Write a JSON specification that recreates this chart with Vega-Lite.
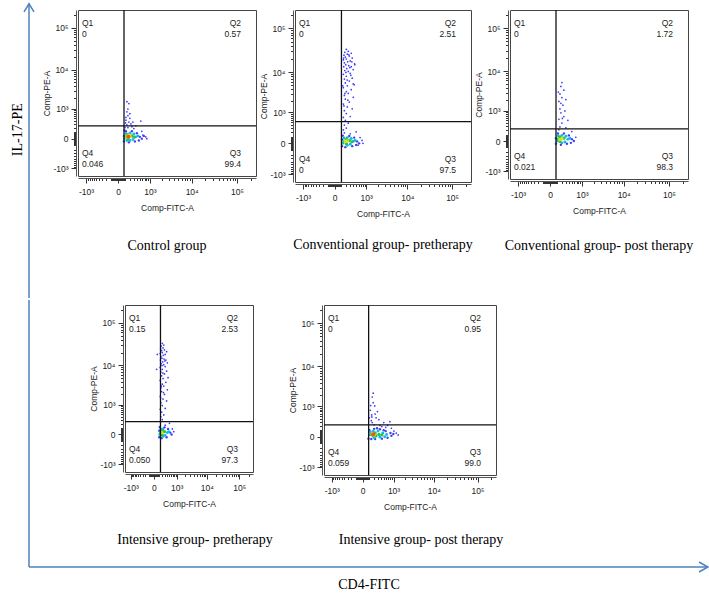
{
"$schema": "https://vega.github.io/schema/vega-lite/v6.json",
"background": "white",
"padding": {"left": 10, "top": 0, "right": 0, "bottom": 0},
"config": {
  "font": "Liberation Sans",
  "view": {"stroke": "#444", "strokeWidth": 1},
  "axis": {"labelFont": "Liberation Sans", "labelFontSize": 8.5, "labelColor": "#222", "titleFont": "Liberation Sans", "titleFontSize": 8.5, "titleFontWeight": "normal", "titleColor": "#222", "tickColor": "#333", "domainColor": "#555", "grid": false, "labelFlush": false, "labelOverlap": false, "tickCount": 100},
  "axisX": {"labelPadding": 4, "titlePadding": 8},
  "axisY": {"labelPadding": 3, "titlePadding": 1},
  "title": {"font": "Liberation Serif", "fontSize": 14, "fontWeight": "normal", "color": "#000"}
},
"datasets": {
"p1": [
{"x":142,"y":279,"c":"s"},{"x":183,"y":365,"c":"s"},{"x":123,"y":430,"c":"s"},{"x":205,"y":501,"c":"s"},{"x":162,"y":623,"c":"s"},{"x":142,"y":816,"c":"s"},{"x":162,"y":988,"c":"s"},{"x":183,"y":1421,"c":"s"},{"x":142,"y":1597,"c":"s"},{"x":540,"y":397,"c":"s"},{"x":253,"y":229,"c":"s"},{"x":229,"y":306,"c":"s"},{"x":162,"y":205,"c":"s"},{"x":116,"y":335,"c":"s"},{"x":306,"y":183,"c":"s"},{"x":365,"y":253,"c":"s"},{"x":580,"y":123,"c":"s"},{"x":623,"y":55,"c":"s"},{"x":764,"y":26,"c":"s"},{"x":105,"y":205,"c":"s"},{"x":205,"y":714,"c":"s"},{"x":123,"y":540,"c":"s"},{"x":816,"y":0,"c":"s"},{"x":279,"y":365,"c":"s"},
{"x":87,"y":-40,"c":"b"},{"x":501,"y":26,"c":"b"},{"x":580,"y":0,"c":"b"},{"x":397,"y":87,"c":"b"},{"x":123,"y":123,"c":"b"},{"x":253,"y":123,"c":"b"},{"x":667,"y":40,"c":"b"},{"x":183,"y":-55,"c":"b"},{"x":335,"y":-40,"c":"b"},{"x":96,"y":142,"c":"b"},{"x":464,"y":-26,"c":"b"},{"x":87,"y":40,"c":"b"},
{"x":93,"y":0,"c":"c"},{"x":365,"y":26,"c":"c"},{"x":205,"y":-26,"c":"c"},{"x":205,"y":87,"c":"c"},{"x":430,"y":40,"c":"c"},{"x":123,"y":80,"c":"c"},{"x":279,"y":-13,"c":"c"},{"x":306,"y":71,"c":"c"},{"x":142,"y":-26,"c":"c"},
{"x":116,"y":26,"c":"g"},{"x":253,"y":40,"c":"g"},{"x":162,"y":-5,"c":"g"},{"x":162,"y":60,"c":"g"},{"x":318,"y":21,"c":"g"},
{"x":142,"y":21,"c":"y"},{"x":205,"y":32,"c":"y"},{"x":183,"y":49,"c":"y"},
{"x":170,"y":26,"c":"r"}
],
"p2": [
{"x":142,"y":253,"c":"s"},{"x":205,"y":306,"c":"s"},{"x":162,"y":397,"c":"s"},{"x":253,"y":464,"c":"s"},{"x":183,"y":580,"c":"s"},{"x":142,"y":714,"c":"s"},{"x":306,"y":764,"c":"s"},{"x":205,"y":928,"c":"s"},{"x":162,"y":1121,"c":"s"},{"x":365,"y":1262,"c":"s"},{"x":229,"y":1421,"c":"s"},{"x":142,"y":1692,"c":"s"},{"x":279,"y":1896,"c":"s"},{"x":183,"y":2247,"c":"s"},{"x":397,"y":2506,"c":"s"},{"x":162,"y":2795,"c":"s"},{"x":253,"y":3117,"c":"s"},{"x":205,"y":3469,"c":"s"},{"x":335,"y":3862,"c":"s"},{"x":142,"y":4296,"c":"s"},{"x":229,"y":4771,"c":"s"},{"x":430,"y":5029,"c":"s"},{"x":183,"y":5584,"c":"s"},{"x":279,"y":6197,"c":"s"},{"x":162,"y":6876,"c":"s"},{"x":365,"y":7237,"c":"s"},{"x":205,"y":8029,"c":"s"},{"x":142,"y":8895,"c":"s"},{"x":306,"y":9369,"c":"s"},{"x":253,"y":10380,"c":"s"},{"x":171,"y":10917,"c":"s"},{"x":397,"y":11498,"c":"s"},{"x":215,"y":12100,"c":"s"},{"x":150,"y":13400,"c":"s"},{"x":335,"y":13400,"c":"s"},{"x":264,"y":14100,"c":"s"},{"x":192,"y":14840,"c":"s"},{"x":443,"y":15610,"c":"s"},{"x":162,"y":16420,"c":"s"},{"x":239,"y":17280,"c":"s"},{"x":306,"y":18170,"c":"s"},{"x":142,"y":19120,"c":"s"},{"x":205,"y":20110,"c":"s"},{"x":365,"y":21160,"c":"s"},{"x":183,"y":22250,"c":"s"},{"x":279,"y":23410,"c":"s"},{"x":154,"y":24610,"c":"s"},{"x":229,"y":25890,"c":"s"},{"x":335,"y":27230,"c":"s"},{"x":171,"y":28640,"c":"s"},{"x":253,"y":30130,"c":"s"},{"x":205,"y":33290,"c":"s"},{"x":397,"y":5300,"c":"s"},{"x":130,"y":4771,"c":"s"},{"x":450,"y":14840,"c":"s"},{"x":196,"y":9862,"c":"s"},{"x":295,"y":12740,"c":"s"},{"x":146,"y":21160,"c":"s"},{"x":353,"y":17280,"c":"s"},{"x":224,"y":6520,"c":"s"},{"x":175,"y":3117,"c":"s"},{"x":323,"y":8453,"c":"s"},{"x":243,"y":2122,"c":"s"},{"x":154,"y":1507,"c":"s"},{"x":269,"y":25130,"c":"s"},{"x":306,"y":162,"c":"s"},{"x":501,"y":205,"c":"s"},{"x":162,"y":183,"c":"s"},{"x":667,"y":87,"c":"s"},{"x":764,"y":40,"c":"s"},{"x":816,"y":0,"c":"s"},{"x":580,"y":-26,"c":"s"},
{"x":116,"y":-40,"c":"b"},{"x":540,"y":26,"c":"b"},{"x":623,"y":0,"c":"b"},{"x":430,"y":87,"c":"b"},{"x":130,"y":123,"c":"b"},{"x":279,"y":117,"c":"b"},{"x":183,"y":-55,"c":"b"},{"x":365,"y":-40,"c":"b"},{"x":501,"y":-21,"c":"b"},{"x":116,"y":55,"c":"b"},
{"x":130,"y":0,"c":"c"},{"x":397,"y":26,"c":"c"},{"x":229,"y":-26,"c":"c"},{"x":229,"y":87,"c":"c"},{"x":464,"y":40,"c":"c"},{"x":154,"y":80,"c":"c"},{"x":306,"y":-13,"c":"c"},{"x":335,"y":71,"c":"c"},
{"x":154,"y":26,"c":"g"},{"x":279,"y":40,"c":"g"},{"x":205,"y":-5,"c":"g"},{"x":205,"y":55,"c":"g"},{"x":353,"y":21,"c":"g"},
{"x":183,"y":26,"c":"y"},{"x":229,"y":32,"c":"y"}
],
"p3": [
{"x":162,"y":279,"c":"s"},{"x":205,"y":397,"c":"s"},{"x":142,"y":540,"c":"s"},{"x":253,"y":667,"c":"s"},{"x":183,"y":870,"c":"s"},{"x":162,"y":1121,"c":"s"},{"x":229,"y":1421,"c":"s"},{"x":142,"y":1792,"c":"s"},{"x":205,"y":2247,"c":"s"},{"x":162,"y":2795,"c":"s"},{"x":253,"y":3469,"c":"s"},{"x":183,"y":4296,"c":"s"},{"x":205,"y":5300,"c":"s"},{"x":306,"y":2006,"c":"s"},{"x":279,"y":988,"c":"s"},{"x":365,"y":501,"c":"s"},{"x":130,"y":3117,"c":"s"},{"x":501,"y":162,"c":"s"},{"x":667,"y":55,"c":"s"},{"x":142,"y":205,"c":"s"},{"x":306,"y":253,"c":"s"},{"x":183,"y":1597,"c":"s"},{"x":215,"y":580,"c":"s"},
{"x":87,"y":-40,"c":"b"},{"x":501,"y":26,"c":"b"},{"x":580,"y":0,"c":"b"},{"x":397,"y":87,"c":"b"},{"x":123,"y":123,"c":"b"},{"x":253,"y":123,"c":"b"},{"x":183,"y":-55,"c":"b"},{"x":335,"y":-40,"c":"b"},{"x":464,"y":-26,"c":"b"},{"x":87,"y":40,"c":"b"},
{"x":105,"y":0,"c":"c"},{"x":365,"y":26,"c":"c"},{"x":205,"y":-26,"c":"c"},{"x":205,"y":87,"c":"c"},{"x":430,"y":40,"c":"c"},{"x":123,"y":80,"c":"c"},{"x":279,"y":-13,"c":"c"},{"x":306,"y":71,"c":"c"},
{"x":123,"y":26,"c":"g"},{"x":253,"y":40,"c":"g"},{"x":162,"y":-5,"c":"g"},{"x":162,"y":60,"c":"g"},
{"x":162,"y":21,"c":"y"},{"x":205,"y":32,"c":"y"}
],
"p4": [
{"x":142,"y":253,"c":"s"},{"x":205,"y":306,"c":"s"},{"x":162,"y":397,"c":"s"},{"x":253,"y":464,"c":"s"},{"x":183,"y":580,"c":"s"},{"x":142,"y":714,"c":"s"},{"x":306,"y":764,"c":"s"},{"x":205,"y":928,"c":"s"},{"x":162,"y":1121,"c":"s"},{"x":365,"y":1262,"c":"s"},{"x":229,"y":1421,"c":"s"},{"x":142,"y":1692,"c":"s"},{"x":279,"y":1896,"c":"s"},{"x":183,"y":2247,"c":"s"},{"x":397,"y":2506,"c":"s"},{"x":162,"y":2795,"c":"s"},{"x":253,"y":3117,"c":"s"},{"x":205,"y":3469,"c":"s"},{"x":335,"y":3862,"c":"s"},{"x":142,"y":4296,"c":"s"},{"x":229,"y":4771,"c":"s"},{"x":430,"y":5029,"c":"s"},{"x":183,"y":5584,"c":"s"},{"x":279,"y":6197,"c":"s"},{"x":162,"y":6876,"c":"s"},{"x":365,"y":7237,"c":"s"},{"x":205,"y":8029,"c":"s"},{"x":142,"y":8895,"c":"s"},{"x":306,"y":9369,"c":"s"},{"x":253,"y":10380,"c":"s"},{"x":171,"y":10917,"c":"s"},{"x":397,"y":11498,"c":"s"},{"x":215,"y":12100,"c":"s"},{"x":150,"y":13400,"c":"s"},{"x":335,"y":13400,"c":"s"},{"x":264,"y":14100,"c":"s"},{"x":192,"y":14840,"c":"s"},{"x":162,"y":16420,"c":"s"},{"x":239,"y":17280,"c":"s"},{"x":306,"y":18170,"c":"s"},{"x":142,"y":19120,"c":"s"},{"x":205,"y":20110,"c":"s"},{"x":365,"y":21160,"c":"s"},{"x":183,"y":22250,"c":"s"},{"x":279,"y":23410,"c":"s"},{"x":154,"y":24610,"c":"s"},{"x":229,"y":25890,"c":"s"},{"x":171,"y":28640,"c":"s"},{"x":253,"y":30130,"c":"s"},{"x":205,"y":33290,"c":"s"},{"x":196,"y":9862,"c":"s"},{"x":295,"y":12740,"c":"s"},{"x":224,"y":6520,"c":"s"},{"x":175,"y":3117,"c":"s"},{"x":243,"y":2122,"c":"s"},{"x":154,"y":1507,"c":"s"},{"x":55,"y":8029,"c":"s"},{"x":71,"y":18170,"c":"s"},{"x":306,"y":162,"c":"s"},{"x":501,"y":205,"c":"s"},{"x":667,"y":87,"c":"s"},{"x":764,"y":40,"c":"s"},
{"x":116,"y":-40,"c":"b"},{"x":540,"y":26,"c":"b"},{"x":623,"y":0,"c":"b"},{"x":430,"y":87,"c":"b"},{"x":130,"y":123,"c":"b"},{"x":279,"y":117,"c":"b"},{"x":183,"y":-55,"c":"b"},{"x":365,"y":-40,"c":"b"},{"x":116,"y":55,"c":"b"},
{"x":130,"y":0,"c":"c"},{"x":397,"y":26,"c":"c"},{"x":229,"y":-26,"c":"c"},{"x":229,"y":87,"c":"c"},{"x":464,"y":40,"c":"c"},{"x":154,"y":80,"c":"c"},{"x":306,"y":-13,"c":"c"},
{"x":154,"y":26,"c":"g"},{"x":279,"y":40,"c":"g"},{"x":205,"y":-5,"c":"g"},{"x":205,"y":55,"c":"g"},
{"x":183,"y":26,"c":"y"}
],
"p5": [
{"x":162,"y":1792,"c":"s"},{"x":219,"y":1026,"c":"s"},{"x":290,"y":695,"c":"s"},{"x":335,"y":365,"c":"s"},{"x":784,"y":306,"c":"s"},{"x":150,"y":540,"c":"s"},{"x":205,"y":219,"c":"s"},{"x":430,"y":179,"c":"s"},{"x":1026,"y":87,"c":"s"},{"x":123,"y":764,"c":"s"},{"x":183,"y":1262,"c":"s"},{"x":142,"y":335,"c":"s"},{"x":253,"y":430,"c":"s"},{"x":365,"y":205,"c":"s"},{"x":580,"y":162,"c":"s"},{"x":870,"y":142,"c":"s"},{"x":1189,"y":55,"c":"s"},{"x":1340,"y":26,"c":"s"},{"x":105,"y":430,"c":"s"},{"x":162,"y":279,"c":"s"},{"x":229,"y":580,"c":"s"},{"x":130,"y":1052,"c":"s"},{"x":501,"y":279,"c":"s"},{"x":667,"y":205,"c":"s"},{"x":183,"y":2247,"c":"s"},{"x":154,"y":464,"c":"s"},
{"x":87,"y":-26,"c":"b"},{"x":105,"y":105,"c":"b"},{"x":205,"y":130,"c":"b"},{"x":365,"y":123,"c":"b"},{"x":580,"y":87,"c":"b"},{"x":816,"y":55,"c":"b"},{"x":988,"y":40,"c":"b"},{"x":870,"y":13,"c":"b"},{"x":667,"y":-13,"c":"b"},{"x":430,"y":-26,"c":"b"},{"x":229,"y":-31,"c":"b"},{"x":142,"y":-31,"c":"b"},{"x":501,"y":105,"c":"b"},{"x":279,"y":142,"c":"b"},
{"x":105,"y":26,"c":"c"},{"x":183,"y":87,"c":"c"},{"x":306,"y":87,"c":"c"},{"x":464,"y":55,"c":"c"},{"x":623,"y":32,"c":"c"},{"x":365,"y":-5,"c":"c"},{"x":205,"y":-13,"c":"c"},{"x":123,"y":71,"c":"c"},{"x":540,"y":0,"c":"c"},
{"x":142,"y":32,"c":"g"},{"x":229,"y":55,"c":"g"},{"x":335,"y":32,"c":"g"},{"x":430,"y":26,"c":"g"},{"x":183,"y":13,"c":"g"},{"x":253,"y":13,"c":"g"},
{"x":162,"y":40,"c":"y"},{"x":205,"y":26,"c":"y"},
{"x":183,"y":34,"c":"r"}
]
},
"vconcat": [
{"hconcat": [
{"width": 10, "height": 283, "view": {"stroke": null},
 "layer": [
  {"data": {"values": [{"x": 0, "y": -0.0176, "y2": 1.022}]}, "mark": {"type": "rule", "color": "#4f81bd", "strokeWidth": 1.5},
   "encoding": {"x": {"field": "x", "type": "quantitative", "scale": {"domain": [0, 1]}, "axis": null}, "y": {"field": "y", "type": "quantitative", "scale": {"domain": [0, 1]}, "axis": null}, "y2": {"field": "y2"}}},
  {"data": {"values": [{"x": 0, "y": 1.022}]}, "mark": {"type": "point", "shape": "M-1,1.6L0,0L1,1.6", "filled": false, "stroke": "#4f81bd", "strokeWidth": 1.5, "size": 100, "opacity": 1},
   "encoding": {"x": {"field": "x", "type": "quantitative"}, "y": {"field": "y", "type": "quantitative"}}},
  {"data": {"values": [{"x": -1.12, "y": 0.577, "t": "IL-17-PE"}]}, "mark": {"type": "text", "angle": 270, "font": "Liberation Serif", "fontSize": 14, "color": "#000"},
   "encoding": {"x": {"field": "x", "type": "quantitative"}, "y": {"field": "y", "type": "quantitative"}, "text": {"field": "t"}}}
 ]},
{"width": 178, "height": 166,
 "title": {"text": "Control group", "orient": "bottom", "offset": 27, "frame": "group"},
 "layer": [
  {"data": {"name": "p1"}, "mark": {"type": "circle", "opacity": 1},
   "encoding": {
    "x": {"field": "x", "type": "quantitative", "scale": {"type": "symlog", "constant": 250, "domain": [-1630, 262144], "nice": false, "zero": false},
      "axis": {"title": "Comp-FITC-A", "offset": 2, "tickCount": 100, "labelOverlap": false, "labelFlush": false, "labelBound": false, "values": [-1000,-900,-800,-700,-600,-500,-400,-300,-200,-100,-90,-80,-70,-60,-50,-40,-30,-20,-10,0,10,20,30,40,50,60,70,80,90,100,200,300,400,500,600,700,800,900,1000,2000,3000,4000,5000,6000,7000,8000,9000,10000,20000,30000,40000,50000,60000,70000,80000,90000,100000,200000], "labelExpr": "datum.value==-1000?'-10³':datum.value==0?'0':datum.value==1000?'10³':datum.value==10000?'10⁴':datum.value==100000?'10⁵':''", "tickSize": {"condition": {"test": "datum.value==-1000||datum.value==0||datum.value==1000||datum.value==10000||datum.value==100000", "value": 5}, "value": 2.5}}},
    "y": {"field": "y", "type": "quantitative", "scale": {"type": "symlog", "constant": 250, "domain": [-1630, 262144], "nice": false, "zero": false},
      "axis": {"title": "Comp-PE-A", "offset": 2, "tickCount": 100, "labelOverlap": false, "labelFlush": false, "labelBound": false, "values": [-1000,-900,-800,-700,-600,-500,-400,-300,-200,-100,-90,-80,-70,-60,-50,-40,-30,-20,-10,0,10,20,30,40,50,60,70,80,90,100,200,300,400,500,600,700,800,900,1000,2000,3000,4000,5000,6000,7000,8000,9000,10000,20000,30000,40000,50000,60000,70000,80000,90000,100000,200000], "labelExpr": "datum.value==-1000?'-10³':datum.value==0?'0':datum.value==1000?'10³':datum.value==10000?'10⁴':datum.value==100000?'10⁵':''", "tickSize": {"condition": {"test": "datum.value==-1000||datum.value==0||datum.value==1000||datum.value==10000||datum.value==100000", "value": 5}, "value": 2.5}}},
    "color": {"field": "c", "type": "nominal", "scale": {"domain": ["s","b","c","g","y","r"], "range": ["#3a3aff","#3c3cf5","#12b8e8","#2cc24a","#d8e020","#f05020"]}, "legend": null},
    "size": {"field": "c", "type": "ordinal", "scale": {"domain": ["s","b","c","g","y","r"], "range": [3,16,16,16,12,10]}, "legend": null}}},
  {"data": {"values": [{"x": 88, "y": 250}]}, "mark": {"type": "rule", "color": "#111", "strokeWidth": 1.3}, "encoding": {"x": {"field": "x", "type": "quantitative"}}},
  {"data": {"values": [{"x": 88, "y": 250}]}, "mark": {"type": "rule", "color": "#111", "strokeWidth": 1.3}, "encoding": {"y": {"field": "y", "type": "quantitative"}}},
  {"data": {"values": [{"x": -1630, "y": 262144, "t": "Q1\n0"}]}, "mark": {"type": "text", "align": "left", "baseline": "top", "dx": 4, "dy": 9, "lineBreak": "\n", "lineHeight": 10.5, "fontSize": 8.5, "color": "#222"}, "encoding": {"x": {"field": "x", "type": "quantitative"}, "y": {"field": "y", "type": "quantitative"}, "text": {"field": "t"}}},
  {"data": {"values": [{"x": 262144, "y": 262144, "t": "Q2\n0.57"}]}, "mark": {"type": "text", "align": "right", "baseline": "top", "dx": -15, "dy": 9, "lineBreak": "\n", "lineHeight": 10.5, "fontSize": 8.5, "color": "#222"}, "encoding": {"x": {"field": "x", "type": "quantitative"}, "y": {"field": "y", "type": "quantitative"}, "text": {"field": "t"}}},
  {"data": {"values": [{"x": 262144, "y": -1630, "t": "Q3\n99.4"}]}, "mark": {"type": "text", "align": "right", "baseline": "top", "dx": -15, "dy": -27, "lineBreak": "\n", "lineHeight": 10.5, "fontSize": 8.5, "color": "#222"}, "encoding": {"x": {"field": "x", "type": "quantitative"}, "y": {"field": "y", "type": "quantitative"}, "text": {"field": "t"}}},
  {"data": {"values": [{"x": -1630, "y": -1630, "t": "Q4\n0.046"}]}, "mark": {"type": "text", "align": "left", "baseline": "top", "dx": 4, "dy": -27, "lineBreak": "\n", "lineHeight": 10.5, "fontSize": 8.5, "color": "#222"}, "encoding": {"x": {"field": "x", "type": "quantitative"}, "y": {"field": "y", "type": "quantitative"}, "text": {"field": "t"}}}
 ]},
{"width": 176, "height": 172,
 "title": {"text": "Conventional group- pretherapy", "orient": "bottom", "offset": 20, "frame": "group"},
 "layer": [
  {"data": {"name": "p2"}, "mark": {"type": "circle", "opacity": 1},
   "encoding": {
    "x": {"field": "x", "type": "quantitative", "scale": {"type": "symlog", "constant": 250, "domain": [-1630, 262144], "nice": false, "zero": false},
      "axis": {"title": "Comp-FITC-A", "offset": 2, "tickCount": 100, "labelOverlap": false, "labelFlush": false, "labelBound": false, "values": [-1000,-900,-800,-700,-600,-500,-400,-300,-200,-100,-90,-80,-70,-60,-50,-40,-30,-20,-10,0,10,20,30,40,50,60,70,80,90,100,200,300,400,500,600,700,800,900,1000,2000,3000,4000,5000,6000,7000,8000,9000,10000,20000,30000,40000,50000,60000,70000,80000,90000,100000,200000], "labelExpr": "datum.value==-1000?'-10³':datum.value==0?'0':datum.value==1000?'10³':datum.value==10000?'10⁴':datum.value==100000?'10⁵':''", "tickSize": {"condition": {"test": "datum.value==-1000||datum.value==0||datum.value==1000||datum.value==10000||datum.value==100000", "value": 5}, "value": 2.5}}},
    "y": {"field": "y", "type": "quantitative", "scale": {"type": "symlog", "constant": 250, "domain": [-1630, 262144], "nice": false, "zero": false},
      "axis": {"title": "Comp-PE-A", "offset": 2, "tickCount": 100, "labelOverlap": false, "labelFlush": false, "labelBound": false, "values": [-1000,-900,-800,-700,-600,-500,-400,-300,-200,-100,-90,-80,-70,-60,-50,-40,-30,-20,-10,0,10,20,30,40,50,60,70,80,90,100,200,300,400,500,600,700,800,900,1000,2000,3000,4000,5000,6000,7000,8000,9000,10000,20000,30000,40000,50000,60000,70000,80000,90000,100000,200000], "labelExpr": "datum.value==-1000?'-10³':datum.value==0?'0':datum.value==1000?'10³':datum.value==10000?'10⁴':datum.value==100000?'10⁵':''", "tickSize": {"condition": {"test": "datum.value==-1000||datum.value==0||datum.value==1000||datum.value==10000||datum.value==100000", "value": 5}, "value": 2.5}}},
    "color": {"field": "c", "type": "nominal", "scale": {"domain": ["s","b","c","g","y","r"], "range": ["#3a3aff","#3c3cf5","#12b8e8","#2cc24a","#d8e020","#f05020"]}, "legend": null},
    "size": {"field": "c", "type": "ordinal", "scale": {"domain": ["s","b","c","g","y","r"], "range": [3,16,16,16,12,10]}, "legend": null}}},
  {"data": {"values": [{"x": 105, "y": 525}]}, "mark": {"type": "rule", "color": "#111", "strokeWidth": 1.3}, "encoding": {"x": {"field": "x", "type": "quantitative"}}},
  {"data": {"values": [{"x": 105, "y": 525}]}, "mark": {"type": "rule", "color": "#111", "strokeWidth": 1.3}, "encoding": {"y": {"field": "y", "type": "quantitative"}}},
  {"data": {"values": [{"x": -1630, "y": 262144, "t": "Q1\n0"}]}, "mark": {"type": "text", "align": "left", "baseline": "top", "dx": 4, "dy": 9, "lineBreak": "\n", "lineHeight": 10.5, "fontSize": 8.5, "color": "#222"}, "encoding": {"x": {"field": "x", "type": "quantitative"}, "y": {"field": "y", "type": "quantitative"}, "text": {"field": "t"}}},
  {"data": {"values": [{"x": 262144, "y": 262144, "t": "Q2\n2.51"}]}, "mark": {"type": "text", "align": "right", "baseline": "top", "dx": -15, "dy": 9, "lineBreak": "\n", "lineHeight": 10.5, "fontSize": 8.5, "color": "#222"}, "encoding": {"x": {"field": "x", "type": "quantitative"}, "y": {"field": "y", "type": "quantitative"}, "text": {"field": "t"}}},
  {"data": {"values": [{"x": 262144, "y": -1630, "t": "Q3\n97.5"}]}, "mark": {"type": "text", "align": "right", "baseline": "top", "dx": -15, "dy": -27, "lineBreak": "\n", "lineHeight": 10.5, "fontSize": 8.5, "color": "#222"}, "encoding": {"x": {"field": "x", "type": "quantitative"}, "y": {"field": "y", "type": "quantitative"}, "text": {"field": "t"}}},
  {"data": {"values": [{"x": -1630, "y": -1630, "t": "Q4\n0"}]}, "mark": {"type": "text", "align": "left", "baseline": "top", "dx": 4, "dy": -27, "lineBreak": "\n", "lineHeight": 10.5, "fontSize": 8.5, "color": "#222"}, "encoding": {"x": {"field": "x", "type": "quantitative"}, "y": {"field": "y", "type": "quantitative"}, "text": {"field": "t"}}}
 ]},
{"width": 178, "height": 169,
 "title": {"text": "Conventional group- post therapy", "orient": "bottom", "offset": 24, "frame": "group"},
 "layer": [
  {"data": {"name": "p3"}, "mark": {"type": "circle", "opacity": 1},
   "encoding": {
    "x": {"field": "x", "type": "quantitative", "scale": {"type": "symlog", "constant": 250, "domain": [-1630, 262144], "nice": false, "zero": false},
      "axis": {"title": "Comp-FITC-A", "offset": 2, "tickCount": 100, "labelOverlap": false, "labelFlush": false, "labelBound": false, "values": [-1000,-900,-800,-700,-600,-500,-400,-300,-200,-100,-90,-80,-70,-60,-50,-40,-30,-20,-10,0,10,20,30,40,50,60,70,80,90,100,200,300,400,500,600,700,800,900,1000,2000,3000,4000,5000,6000,7000,8000,9000,10000,20000,30000,40000,50000,60000,70000,80000,90000,100000,200000], "labelExpr": "datum.value==-1000?'-10³':datum.value==0?'0':datum.value==1000?'10³':datum.value==10000?'10⁴':datum.value==100000?'10⁵':''", "tickSize": {"condition": {"test": "datum.value==-1000||datum.value==0||datum.value==1000||datum.value==10000||datum.value==100000", "value": 5}, "value": 2.5}}},
    "y": {"field": "y", "type": "quantitative", "scale": {"type": "symlog", "constant": 250, "domain": [-1630, 262144], "nice": false, "zero": false},
      "axis": {"title": "Comp-PE-A", "offset": 2, "tickCount": 100, "labelOverlap": false, "labelFlush": false, "labelBound": false, "values": [-1000,-900,-800,-700,-600,-500,-400,-300,-200,-100,-90,-80,-70,-60,-50,-40,-30,-20,-10,0,10,20,30,40,50,60,70,80,90,100,200,300,400,500,600,700,800,900,1000,2000,3000,4000,5000,6000,7000,8000,9000,10000,20000,30000,40000,50000,60000,70000,80000,90000,100000,200000], "labelExpr": "datum.value==-1000?'-10³':datum.value==0?'0':datum.value==1000?'10³':datum.value==10000?'10⁴':datum.value==100000?'10⁵':''", "tickSize": {"condition": {"test": "datum.value==-1000||datum.value==0||datum.value==1000||datum.value==10000||datum.value==100000", "value": 5}, "value": 2.5}}},
    "color": {"field": "c", "type": "nominal", "scale": {"domain": ["s","b","c","g","y","r"], "range": ["#3a3aff","#3c3cf5","#12b8e8","#2cc24a","#d8e020","#f05020"]}, "legend": null},
    "size": {"field": "c", "type": "ordinal", "scale": {"domain": ["s","b","c","g","y","r"], "range": [3,16,16,16,12,10]}, "legend": null}}},
  {"data": {"values": [{"x": 88, "y": 225}]}, "mark": {"type": "rule", "color": "#111", "strokeWidth": 1.3}, "encoding": {"x": {"field": "x", "type": "quantitative"}}},
  {"data": {"values": [{"x": 88, "y": 225}]}, "mark": {"type": "rule", "color": "#111", "strokeWidth": 1.3}, "encoding": {"y": {"field": "y", "type": "quantitative"}}},
  {"data": {"values": [{"x": -1630, "y": 262144, "t": "Q1\n0"}]}, "mark": {"type": "text", "align": "left", "baseline": "top", "dx": 4, "dy": 9, "lineBreak": "\n", "lineHeight": 10.5, "fontSize": 8.5, "color": "#222"}, "encoding": {"x": {"field": "x", "type": "quantitative"}, "y": {"field": "y", "type": "quantitative"}, "text": {"field": "t"}}},
  {"data": {"values": [{"x": 262144, "y": 262144, "t": "Q2\n1.72"}]}, "mark": {"type": "text", "align": "right", "baseline": "top", "dx": -15, "dy": 9, "lineBreak": "\n", "lineHeight": 10.5, "fontSize": 8.5, "color": "#222"}, "encoding": {"x": {"field": "x", "type": "quantitative"}, "y": {"field": "y", "type": "quantitative"}, "text": {"field": "t"}}},
  {"data": {"values": [{"x": 262144, "y": -1630, "t": "Q3\n98.3"}]}, "mark": {"type": "text", "align": "right", "baseline": "top", "dx": -15, "dy": -27, "lineBreak": "\n", "lineHeight": 10.5, "fontSize": 8.5, "color": "#222"}, "encoding": {"x": {"field": "x", "type": "quantitative"}, "y": {"field": "y", "type": "quantitative"}, "text": {"field": "t"}}},
  {"data": {"values": [{"x": -1630, "y": -1630, "t": "Q4\n0.021"}]}, "mark": {"type": "text", "align": "left", "baseline": "top", "dx": 4, "dy": -27, "lineBreak": "\n", "lineHeight": 10.5, "fontSize": 8.5, "color": "#222"}, "encoding": {"x": {"field": "x", "type": "quantitative"}, "y": {"field": "y", "type": "quantitative"}, "text": {"field": "t"}}}
 ]}
], "spacing": 39, "bounds": "flush"},
{"hconcat": [
{"width": 25, "height": 262, "view": {"stroke": null},
 "layer": [
  {"data": {"values": [{"x": 0, "y": 0, "y2": 1.019}]}, "mark": {"type": "rule", "color": "#4f81bd", "strokeWidth": 1.5},
   "encoding": {"x": {"field": "x", "type": "quantitative", "scale": {"domain": [0, 1]}, "axis": null}, "y": {"field": "y", "type": "quantitative", "scale": {"domain": [0, 1]}, "axis": null}, "y2": {"field": "y2"}}},
  {"data": {"values": [{"x": 0, "x2": 27.16, "y": 0}]}, "mark": {"type": "rule", "color": "#4f81bd", "strokeWidth": 1.5},
   "encoding": {"x": {"field": "x", "type": "quantitative"}, "x2": {"field": "x2"}, "y": {"field": "y", "type": "quantitative"}}},
  {"data": {"values": [{"x": 27.16, "y": 0}]}, "mark": {"type": "point", "shape": "M-1.8,-1L0,0L-1.8,1", "filled": false, "stroke": "#4f81bd", "strokeWidth": 1.5, "size": 100, "opacity": 1},
   "encoding": {"x": {"field": "x", "type": "quantitative"}, "y": {"field": "y", "type": "quantitative"}}},
  {"data": {"values": [{"x": 13.6, "y": -0.07, "t": "CD4-FITC"}]}, "mark": {"type": "text", "font": "Liberation Serif", "fontSize": 14, "color": "#000"},
   "encoding": {"x": {"field": "x", "type": "quantitative"}, "y": {"field": "y", "type": "quantitative"}, "text": {"field": "t"}}},
  {"data": {"values": [{"x": -0.448, "y": 0.5, "t": " "}]}, "mark": {"type": "text", "angle": 270, "font": "Liberation Serif", "fontSize": 14, "color": "#000"},
   "encoding": {"x": {"field": "x", "type": "quantitative"}, "y": {"field": "y", "type": "quantitative"}, "text": {"field": "t"}}}
 ]},
{"width": 128, "height": 167,
 "title": {"text": "Intensive group- pretherapy", "orient": "bottom", "offset": 25, "frame": "group", "dx": 6},
 "layer": [
  {"data": {"name": "p4"}, "mark": {"type": "circle", "opacity": 1},
   "encoding": {
    "x": {"field": "x", "type": "quantitative", "scale": {"type": "symlog", "constant": 250, "domain": [-1630, 262144], "nice": false, "zero": false},
      "axis": {"title": "Comp-FITC-A", "offset": 2, "tickCount": 100, "labelOverlap": false, "labelFlush": false, "labelBound": false, "values": [-1000,-900,-800,-700,-600,-500,-400,-300,-200,-100,-90,-80,-70,-60,-50,-40,-30,-20,-10,0,10,20,30,40,50,60,70,80,90,100,200,300,400,500,600,700,800,900,1000,2000,3000,4000,5000,6000,7000,8000,9000,10000,20000,30000,40000,50000,60000,70000,80000,90000,100000,200000], "labelExpr": "datum.value==-1000?'-10³':datum.value==0?'0':datum.value==1000?'10³':datum.value==10000?'10⁴':datum.value==100000?'10⁵':''", "tickSize": {"condition": {"test": "datum.value==-1000||datum.value==0||datum.value==1000||datum.value==10000||datum.value==100000", "value": 5}, "value": 2.5}}},
    "y": {"field": "y", "type": "quantitative", "scale": {"type": "symlog", "constant": 250, "domain": [-1630, 262144], "nice": false, "zero": false},
      "axis": {"title": "Comp-PE-A", "offset": 2, "tickCount": 100, "labelOverlap": false, "labelFlush": false, "labelBound": false, "values": [-1000,-900,-800,-700,-600,-500,-400,-300,-200,-100,-90,-80,-70,-60,-50,-40,-30,-20,-10,0,10,20,30,40,50,60,70,80,90,100,200,300,400,500,600,700,800,900,1000,2000,3000,4000,5000,6000,7000,8000,9000,10000,20000,30000,40000,50000,60000,70000,80000,90000,100000,200000], "labelExpr": "datum.value==-1000?'-10³':datum.value==0?'0':datum.value==1000?'10³':datum.value==10000?'10⁴':datum.value==100000?'10⁵':''", "tickSize": {"condition": {"test": "datum.value==-1000||datum.value==0||datum.value==1000||datum.value==10000||datum.value==100000", "value": 5}, "value": 2.5}}},
    "color": {"field": "c", "type": "nominal", "scale": {"domain": ["s","b","c","g","y","r"], "range": ["#3a3aff","#3c3cf5","#12b8e8","#2cc24a","#d8e020","#f05020"]}, "legend": null},
    "size": {"field": "c", "type": "ordinal", "scale": {"domain": ["s","b","c","g","y","r"], "range": [3,12,12,12,10,8]}, "legend": null}}},
  {"data": {"values": [{"x": 150, "y": 250}]}, "mark": {"type": "rule", "color": "#111", "strokeWidth": 1.3}, "encoding": {"x": {"field": "x", "type": "quantitative"}}},
  {"data": {"values": [{"x": 150, "y": 250}]}, "mark": {"type": "rule", "color": "#111", "strokeWidth": 1.3}, "encoding": {"y": {"field": "y", "type": "quantitative"}}},
  {"data": {"values": [{"x": -1630, "y": 262144, "t": "Q1\n0.15"}]}, "mark": {"type": "text", "align": "left", "baseline": "top", "dx": 4, "dy": 9, "lineBreak": "\n", "lineHeight": 10.5, "fontSize": 8.5, "color": "#222"}, "encoding": {"x": {"field": "x", "type": "quantitative"}, "y": {"field": "y", "type": "quantitative"}, "text": {"field": "t"}}},
  {"data": {"values": [{"x": 262144, "y": 262144, "t": "Q2\n2.53"}]}, "mark": {"type": "text", "align": "right", "baseline": "top", "dx": -15, "dy": 9, "lineBreak": "\n", "lineHeight": 10.5, "fontSize": 8.5, "color": "#222"}, "encoding": {"x": {"field": "x", "type": "quantitative"}, "y": {"field": "y", "type": "quantitative"}, "text": {"field": "t"}}},
  {"data": {"values": [{"x": 262144, "y": -1630, "t": "Q3\n97.3"}]}, "mark": {"type": "text", "align": "right", "baseline": "top", "dx": -15, "dy": -27, "lineBreak": "\n", "lineHeight": 10.5, "fontSize": 8.5, "color": "#222"}, "encoding": {"x": {"field": "x", "type": "quantitative"}, "y": {"field": "y", "type": "quantitative"}, "text": {"field": "t"}}},
  {"data": {"values": [{"x": -1630, "y": -1630, "t": "Q4\n0.050"}]}, "mark": {"type": "text", "align": "left", "baseline": "top", "dx": 4, "dy": -27, "lineBreak": "\n", "lineHeight": 10.5, "fontSize": 8.5, "color": "#222"}, "encoding": {"x": {"field": "x", "type": "quantitative"}, "y": {"field": "y", "type": "quantitative"}, "text": {"field": "t"}}}
 ]},
{"width": 172, "height": 170,
 "title": {"text": "Intensive group- post therapy", "orient": "bottom", "offset": 22, "frame": "group", "dx": 11},
 "layer": [
  {"data": {"name": "p5"}, "mark": {"type": "circle", "opacity": 1},
   "encoding": {
    "x": {"field": "x", "type": "quantitative", "scale": {"type": "symlog", "constant": 250, "domain": [-1630, 262144], "nice": false, "zero": false},
      "axis": {"title": "Comp-FITC-A", "offset": 2, "tickCount": 100, "labelOverlap": false, "labelFlush": false, "labelBound": false, "values": [-1000,-900,-800,-700,-600,-500,-400,-300,-200,-100,-90,-80,-70,-60,-50,-40,-30,-20,-10,0,10,20,30,40,50,60,70,80,90,100,200,300,400,500,600,700,800,900,1000,2000,3000,4000,5000,6000,7000,8000,9000,10000,20000,30000,40000,50000,60000,70000,80000,90000,100000,200000], "labelExpr": "datum.value==-1000?'-10³':datum.value==0?'0':datum.value==1000?'10³':datum.value==10000?'10⁴':datum.value==100000?'10⁵':''", "tickSize": {"condition": {"test": "datum.value==-1000||datum.value==0||datum.value==1000||datum.value==10000||datum.value==100000", "value": 5}, "value": 2.5}}},
    "y": {"field": "y", "type": "quantitative", "scale": {"type": "symlog", "constant": 250, "domain": [-1630, 262144], "nice": false, "zero": false},
      "axis": {"title": "Comp-PE-A", "offset": 2, "tickCount": 100, "labelOverlap": false, "labelFlush": false, "labelBound": false, "values": [-1000,-900,-800,-700,-600,-500,-400,-300,-200,-100,-90,-80,-70,-60,-50,-40,-30,-20,-10,0,10,20,30,40,50,60,70,80,90,100,200,300,400,500,600,700,800,900,1000,2000,3000,4000,5000,6000,7000,8000,9000,10000,20000,30000,40000,50000,60000,70000,80000,90000,100000,200000], "labelExpr": "datum.value==-1000?'-10³':datum.value==0?'0':datum.value==1000?'10³':datum.value==10000?'10⁴':datum.value==100000?'10⁵':''", "tickSize": {"condition": {"test": "datum.value==-1000||datum.value==0||datum.value==1000||datum.value==10000||datum.value==100000", "value": 5}, "value": 2.5}}},
    "color": {"field": "c", "type": "nominal", "scale": {"domain": ["s","b","c","g","y","r"], "range": ["#3a3aff","#3c3cf5","#12b8e8","#2cc24a","#d8e020","#f05020"]}, "legend": null},
    "size": {"field": "c", "type": "ordinal", "scale": {"domain": ["s","b","c","g","y","r"], "range": [3,16,16,16,12,10]}, "legend": null}}},
  {"data": {"values": [{"x": 91, "y": 220}]}, "mark": {"type": "rule", "color": "#111", "strokeWidth": 1.3}, "encoding": {"x": {"field": "x", "type": "quantitative"}}},
  {"data": {"values": [{"x": 91, "y": 220}]}, "mark": {"type": "rule", "color": "#111", "strokeWidth": 1.3}, "encoding": {"y": {"field": "y", "type": "quantitative"}}},
  {"data": {"values": [{"x": -1630, "y": 262144, "t": "Q1\n0"}]}, "mark": {"type": "text", "align": "left", "baseline": "top", "dx": 4, "dy": 9, "lineBreak": "\n", "lineHeight": 10.5, "fontSize": 8.5, "color": "#222"}, "encoding": {"x": {"field": "x", "type": "quantitative"}, "y": {"field": "y", "type": "quantitative"}, "text": {"field": "t"}}},
  {"data": {"values": [{"x": 262144, "y": 262144, "t": "Q2\n0.95"}]}, "mark": {"type": "text", "align": "right", "baseline": "top", "dx": -15, "dy": 9, "lineBreak": "\n", "lineHeight": 10.5, "fontSize": 8.5, "color": "#222"}, "encoding": {"x": {"field": "x", "type": "quantitative"}, "y": {"field": "y", "type": "quantitative"}, "text": {"field": "t"}}},
  {"data": {"values": [{"x": 262144, "y": -1630, "t": "Q3\n99.0"}]}, "mark": {"type": "text", "align": "right", "baseline": "top", "dx": -15, "dy": -27, "lineBreak": "\n", "lineHeight": 10.5, "fontSize": 8.5, "color": "#222"}, "encoding": {"x": {"field": "x", "type": "quantitative"}, "y": {"field": "y", "type": "quantitative"}, "text": {"field": "t"}}},
  {"data": {"values": [{"x": -1630, "y": -1630, "t": "Q4\n0.059"}]}, "mark": {"type": "text", "align": "left", "baseline": "top", "dx": 4, "dy": -27, "lineBreak": "\n", "lineHeight": 10.5, "fontSize": 8.5, "color": "#222"}, "encoding": {"x": {"field": "x", "type": "quantitative"}, "y": {"field": "y", "type": "quantitative"}, "text": {"field": "t"}}}
 ]}
], "spacing": 71, "bounds": "flush"}
],
"spacing": 0
}
